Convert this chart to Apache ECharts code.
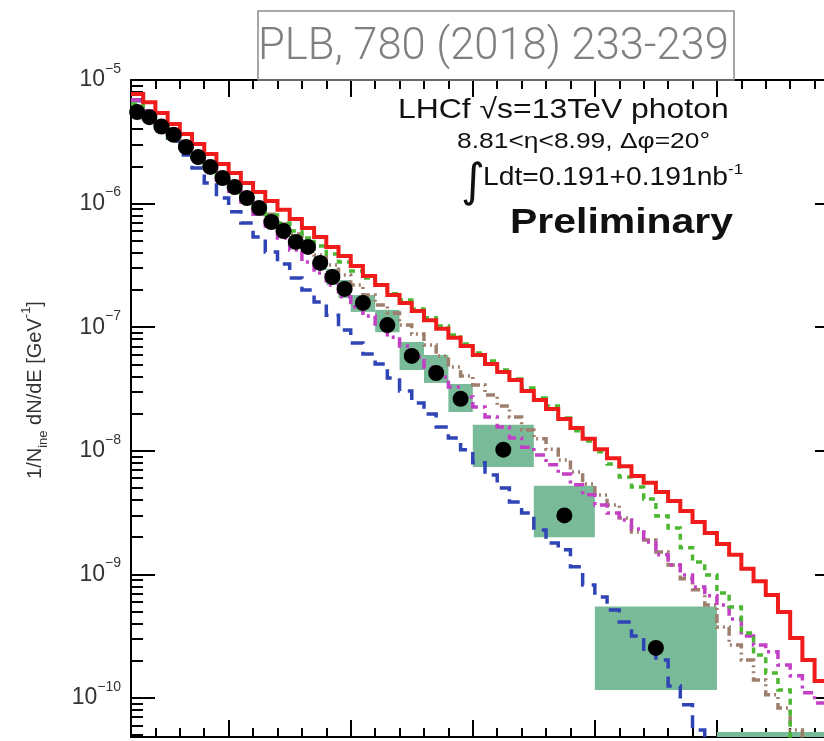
<!DOCTYPE html>
<html><head><meta charset="utf-8">
<script src="https://cdn.jsdelivr.net/npm/echarts@6/dist/echarts.min.js"></script>
<style>html,body{margin:0;padding:0;background:#fff}#c{width:824px;height:741px}</style>
</head><body><div id="c"></div>
<script>
// ---------- data ----------
// model histogram bin edges [GeV]
const modelBinEdges = [200,300,400,500,600,700,800,900,1000,1100,1200,1300,1400,1500,1600,1700,1800,1900,2000,
  2100,2200,2300,2400,2500,2600,2700,2800,2900,3000,3100,3200,3300,3400,3500,3600,3700,3800,3900,4000,
  4100,4200,4300,4400,4500,4600,4700,4800,4900,5000,5100,5200,5300,5400,5500,5600,5700,5800,5900,6000];

// DPMJET (red, solid)
const dpmjet = [7.7e-6,6.6e-6,5.4e-6,4.4e-6,3.66e-6,3.03e-6,2.52e-6,2.09e-6,1.77e-6,1.47e-6,
  1.24e-6,1.05e-6,8.9e-7,7.5e-7,6.35e-7,5.37e-7,4.46e-7,3.77e-7,3.13e-7,2.6e-7,
  2.19e-7,1.82e-7,1.57e-7,1.35e-7,1.14e-7,9.7e-8,8.2e-8,7.05e-8,5.96e-8,5.04e-8,
  4.34e-8,3.74e-8,3.05e-8,2.58e-8,2.18e-8,1.81e-8,1.53e-8,1.25e-8,1.03e-8,8.7e-9,
  7.5e-9,6.25e-9,5.5e-9,4.64e-9,3.92e-9,3.26e-9,2.65e-9,2.16e-9,1.76e-9,1.44e-9,
  1.11e-9,8.8e-10,6.8e-10,4.96e-10,3.06e-10,2.03e-10,1.37e-10,9.6e-11];
// QGSJET (blue, dashed)
const qgsjet = [6.8e-6,5.41e-6,4.17e-6,3.21e-6,2.47e-6,1.94e-6,1.47e-6,1.11e-6,8.6e-7,6.97e-7,
  5.37e-7,4.06e-7,3.25e-7,2.5e-7,2.0e-7,1.6e-7,1.25e-7,9.5e-8,7.45e-8,6.07e-8,
  5.04e-8,3.88e-8,3.05e-8,2.44e-8,1.98e-8,1.56e-8,1.27e-8,1.02e-8,8.0e-9,6.37e-9,
  5.0e-9,3.85e-9,3.14e-9,2.29e-9,1.79e-9,1.58e-9,1.15e-9,8.2e-10,6.57e-10,5.15e-10,
  4.12e-10,3.17e-10,2.36e-10,2.03e-10,1.25e-10,8.8e-11,5.5e-11,2e-11];
// SIBYLL (green, dotted)
const sibyll = [6.4e-6,5.1e-6,4.1e-6,3.27e-6,2.72e-6,2.25e-6,1.87e-6,1.58e-6,1.34e-6,1.13e-6,
  9.6e-7,8.1e-7,6.97e-7,6.0e-7,5.27e-7,4.54e-7,3.91e-7,3.37e-7,2.85e-7,2.5e-7,
  2.19e-7,1.86e-7,1.66e-7,1.4e-7,1.19e-7,1.02e-7,8.65e-8,7.3e-8,6.18e-8,5.33e-8,
  4.51e-8,3.81e-8,3.22e-8,2.67e-8,2.3e-8,1.84e-8,1.45e-8,1.2e-8,9.8e-9,7.8e-9,
  6.14e-9,5.09e-9,4.07e-9,2.97e-9,2.37e-9,1.64e-9,1.26e-9,9.9e-10,7.07e-10,5.45e-10,
  3.36e-10,2.23e-10,1.59e-10,1.16e-10,2e-11];
// EPOS-LHC (magenta, dash-dot)
const eposLhc = [6.9e-6,5.6e-6,4.57e-6,3.66e-6,2.92e-6,2.38e-6,1.94e-6,1.55e-6,1.26e-6,1.03e-6,
  8.2e-7,6.6e-7,5.27e-7,4.21e-7,3.37e-7,2.75e-7,2.19e-7,1.76e-7,1.46e-7,1.23e-7,
  1.02e-7,8.3e-8,7.05e-8,5.74e-8,4.76e-8,3.95e-8,3.28e-8,2.72e-8,2.26e-8,1.88e-8,
  1.56e-8,1.27e-8,1.07e-8,9.25e-9,7.7e-9,6.5e-9,5.3e-9,4.4e-9,3.64e-9,3.14e-9,
  2.75e-9,2.33e-9,1.83e-9,1.44e-9,1.19e-9,9.9e-10,7.9e-10,6.7e-10,5.65e-10,4.36e-10,
  3.17e-10,2.68e-10,2.36e-10,1.85e-10,1.51e-10,1.1e-10,9.1e-11,7.3e-11];
// PYTHIA (brown, dash-dot-dot)
const pythia = [6.9e-6,5.6e-6,4.57e-6,3.73e-6,3.03e-6,2.52e-6,2.09e-6,1.74e-6,1.44e-6,1.2e-6,
  9.9e-7,8.2e-7,6.84e-7,5.68e-7,4.71e-7,3.84e-7,3.19e-7,2.64e-7,2.19e-7,1.82e-7,
  1.51e-7,1.3e-7,1.04e-7,8.8e-8,7.18e-8,5.85e-8,4.76e-8,4.03e-8,3.41e-8,2.83e-8,
  2.3e-8,1.88e-8,1.47e-8,1.25e-8,1.03e-8,8.4e-9,6.74e-9,5.39e-9,4.39e-9,3.64e-9,
  2.86e-9,2.2e-9,1.9e-9,1.52e-9,1.19e-9,9.2e-10,7.5e-10,5.65e-10,3.75e-10,2.68e-10,
  2.03e-10,1.4e-10,1.06e-10,8.3e-11,5.5e-11,2e-11];

// LHCf data
const dataBinLow  = [200,300,400,500,600,700,800,900,1000,1100,1200,1300,1400,1500,1600,1700,1800,1900,2000,2200,2400,2600,2800,3000,3500,4000,5000];
const dataBinHigh = [300,400,500,600,700,800,900,1000,1100,1200,1300,1400,1500,1600,1700,1800,1900,2000,2200,2400,2600,2800,3000,3500,4000,5000,6000];
const dataValue = [5.5e-6,5.0e-6,4.2e-6,3.6e-6,2.87e-6,2.38e-6,1.98e-6,1.61e-6,1.36e-6,1.11e-6,
  9.2e-7,7.1e-7,6.0e-7,4.9e-7,4.46e-7,3.31e-7,2.55e-7,2.04e-7,1.57e-7,1.04e-7,
  5.85e-8,4.26e-8,2.63e-8,1.02e-8,3.0e-9,2.54e-10,2.5e-11];
const dataSysHigh = [6.0e-6,5.5e-6,4.6e-6,3.94e-6,3.15e-6,2.62e-6,2.17e-6,1.77e-6,1.5e-6,1.22e-6,
  1.01e-6,7.8e-7,6.6e-7,5.37e-7,4.89e-7,3.77e-7,2.96e-7,2.41e-7,1.82e-7,1.38e-7,
  7.6e-8,5.96e-8,3.47e-8,1.62e-8,5.2e-9,5.5e-10,5.3e-11];
const dataSysLow = [5.0e-6,4.6e-6,3.8e-6,3.27e-6,2.62e-6,2.17e-6,1.8e-6,1.47e-6,1.24e-6,1.01e-6,
  8.4e-7,6.5e-7,5.5e-7,4.46e-7,3.98e-7,2.9e-7,2.19e-7,1.72e-7,1.33e-7,9.1e-8,
  4.5e-8,3.54e-8,2.06e-8,7.4e-9,2.0e-9,1.16e-10,1.0e-11];

// axis ticks
const xMajorTicks = [1000,2000,3000,4000,5000,6000];
const yDecades = [-10,-9,-8,-7,-6,-5];
const X_MIN = 200, X_MAX = 6000;
const Y_MIN_VALUE = 4.83e-11, Y_MAX_VALUE = 1e-5;

// ---------- chart ----------
const L10 = Math.log10;
const Y_MIN = L10(Y_MIN_VALUE), Y_MAX = L10(Y_MAX_VALUE);
const FONT = '"Liberation Sans", Arial, Helvetica, sans-serif';

const xMinorTicks = [];
for (let e = X_MIN; e <= X_MAX; e += 200) xMinorTicks.push(e);
const yMinorTicks = [];
for (let n = -11; n <= -6; n++) for (let k = 2; k <= 9; k++) {
  const v = n + L10(k); if (v >= Y_MIN && v <= Y_MAX) yMinorTicks.push(v);
}

function stepPoints(vals) {
  const pts = vals.map((v, i) => [modelBinEdges[i], L10(v)]);
  pts.push([modelBinEdges[vals.length], L10(vals[vals.length - 1])]);
  return pts;
}
function modelSeries(name, vals, color, dash, z, width) {
  return { name, type: 'line', step: 'end', data: stepPoints(vals), symbol: 'none', z,
    lineStyle: { color, width: width, type: dash, cap: 'butt', join: 'miter', opacity: 1 }, clip: true, animation: false };
}

const tickStyle = { color: '#000', width: 2 };
function xAx(pos, ticks, len, line) {
  return { type: 'value', position: pos, min: X_MIN, max: X_MAX, gridIndex: 0,
    axisLine: { show: line, onZero: false, lineStyle: { color: '#000', width: 2 } },
    axisTick: { show: true, inside: true, length: len, customValues: ticks, lineStyle: tickStyle },
    axisLabel: { show: false }, splitLine: { show: false } };
}
function yAx(pos, ticks, len, line, labels) {
  const ax = { type: 'value', position: pos, min: Y_MIN, max: Y_MAX, gridIndex: 0,
    axisLine: { show: line, onZero: false, lineStyle: { color: '#000', width: 2 } },
    axisTick: { show: true, inside: true, length: len, customValues: ticks, lineStyle: tickStyle },
    axisLabel: { show: false }, splitLine: { show: false } };
  if (labels) {
    ax.axisLabel = { show: true, customValues: yDecades, margin: 10,
      formatter: v => '{b|10}{s|' + (v < 0 ? '\u2212' : '') + Math.abs(Math.round(v)) + '}',
      rich: {
        b: { fontSize: 23, fontFamily: FONT, color: '#333', lineHeight: 36 },
        s: { fontSize: 14, fontFamily: FONT, color: '#333', verticalAlign: 'top', lineHeight: 16 }
      } };
  }
  return ax;
}

const option = {
  animation: false,
  backgroundColor: '#fff',
  grid: { left: 131, top: 80, right: -15, bottom: 4, containLabel: false, outerBoundsMode: 'none' },
  xAxis: [
    xAx('bottom', xMajorTicks, 17, true),
    xAx('bottom', xMinorTicks, 9, false),
    xAx('top', xMajorTicks, 17, true),
    xAx('top', xMinorTicks, 9, false)
  ],
  yAxis: [
    yAx('left', yDecades, 24, true, true),
    yAx('left', yMinorTicks, 12, false, false),
    yAx('right', yDecades, 24, true, false),
    yAx('right', yMinorTicks, 12, false, false)
  ],
  series: [
    { type: 'custom', z: 1, clip: true,
      data: dataBinLow.map((lo, i) => [lo, dataBinHigh[i], L10(dataSysLow[i]), L10(dataSysHigh[i])]),
      encode: { x: [0, 1], y: [2, 3] },
      renderItem(params, api) {
        const a = api.coord([api.value(0), api.value(3)]);
        const b = api.coord([api.value(1), api.value(2)]);
        const cs = params.coordSys;
        const x0 = Math.max(a[0], cs.x), x1 = Math.min(b[0], cs.x + cs.width);
        const y0 = Math.max(a[1], cs.y), y1 = Math.min(b[1], cs.y + cs.height);
        if (x1 <= x0 || y1 <= y0) return null;
        return { type: 'rect', shape: { x: x0, y: y0, width: x1 - x0, height: y1 - y0 }, style: { fill: '#79bb98' } };
      } },
    modelSeries('QGSJET II-04', qgsjet, '#2f44b5', [13, 8], 2, 3.5),
    modelSeries('PYTHIA 8.212', pythia, '#9e7f6e', [9, 4, 2, 4, 2, 4], 2, 3.5),
    modelSeries('EPOS-LHC', eposLhc, '#c23fc6', [10, 5, 3, 5], 2, 3.5),
    modelSeries('SIBYLL 2.2', sibyll, '#4cb832', [6, 5], 3, 3.5),
    modelSeries('DPMJET 3.04', dpmjet, '#f01c1c', 'solid', 4, 4),
    { name: 'Data', type: 'scatter', z: 6, symbol: 'circle', symbolSize: 16, clip: true,
      itemStyle: { color: '#000', opacity: 1 },
      data: dataBinLow.map((lo, i) => [(lo + dataBinHigh[i]) / 2, L10(dataValue[i])]) }
  ],
  graphic: [
    { type: 'rect', z: 100, shape: { x: 258, y: 11, width: 476, height: 69 },
      style: { fill: 'none', stroke: '#8c8c8c', lineWidth: 1.5 } },
    { type: 'text', z: 101, x: 258, y: 48,
      style: { text: 'PLB, 780 (2018) 233-239', fontSize: 43.5, fontWeight: 300,
        fontFamily: 'Roboto, "Open Sans", "Liberation Sans", sans-serif', fill: '#808080', align: 'left', verticalAlign: 'middle' } },
    { type: 'text', z: 101, x: 398, y: 110, scaleX: 1.14,
      style: { text: 'LHCf \u221as=13TeV photon', fontSize: 28, fontFamily: FONT, fill: '#111', align: 'left', verticalAlign: 'middle' } },
    { type: 'text', z: 101, x: 457, y: 142, scaleX: 1.2,
      style: { text: '8.81<\u03b7<8.99, \u0394\u03c6=20\u00b0', fontSize: 22, fontFamily: FONT, fill: '#111', align: 'left', verticalAlign: 'middle' } },
    { type: 'text', z: 101, x: 461, y: 184,
      style: { text: '\u222b', fontSize: 46, fontFamily: '"DejaVu Sans", sans-serif', fill: '#111', align: 'left', verticalAlign: 'middle' } },
    { type: 'text', z: 101, x: 483, y: 178, scaleX: 1.13,
      style: { text: '{a|Ldt=0.191+0.191nb}{s|-1}', fontFamily: FONT, fill: '#111', align: 'left', verticalAlign: 'middle',
        rich: { a: { fontSize: 25, fontFamily: FONT, fill: '#111', lineHeight: 32 },
                s: { fontSize: 15, fontFamily: FONT, fill: '#111', verticalAlign: 'top', lineHeight: 16 } } } },
    { type: 'text', z: 101, x: 510, y: 223, scaleX: 1.17,
      style: { text: 'Preliminary', fontSize: 35, fontWeight: 'bold', fontFamily: FONT, fill: '#111', align: 'left', verticalAlign: 'middle' } },
    { type: 'text', z: 101, x: 35, y: 390, rotation: Math.PI / 2,
      style: { text: '{n|1/N}{sub|ine}{n| dN/dE [GeV}{sup|-1}{n|]}', fontFamily: FONT, fill: '#333', align: 'center', verticalAlign: 'middle',
        rich: { n: { fontSize: 20, fontFamily: FONT, fill: '#333', lineHeight: 30 },
                sub: { fontSize: 13, fontFamily: FONT, fill: '#333', verticalAlign: 'bottom', lineHeight: 14 },
                sup: { fontSize: 13, fontFamily: FONT, fill: '#333', verticalAlign: 'top', lineHeight: 14 } } } }
  ]
};

const chart = echarts.init(document.getElementById('c'), null, { renderer: 'canvas' });
chart.setOption(option);
</script>
</body></html>
